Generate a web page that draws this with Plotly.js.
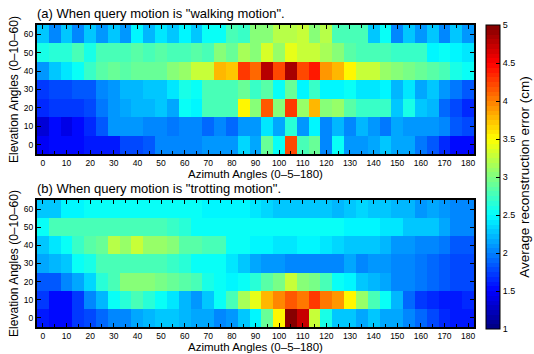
<!DOCTYPE html>
<html><head><meta charset="utf-8">
<script src="https://cdn.plot.ly/plotly-3.0.1.min.js"></script>
<style>html,body{margin:0;padding:0;background:#fff}</style>
</head><body><div id="chart" style="width:534px;height:354px"></div>
<script>
const azimuth = [0,5,10,15,20,25,30,35,40,45,50,55,60,65,70,75,80,85,90,95,100,105,110,115,120,125,130,135,140,145,150,155,160,165,170,175,180];
const elevation = [0,10,20,30,40,50,60];
const azTicks = [0,10,20,30,40,50,60,70,80,90,100,110,120,130,140,150,160,170,180];
const elTicks = [0,10,20,30,40,50,60];
const cbTicks = [1,1.5,2,2.5,3,3.5,4,4.5,5];

// (a) walking motion, rows elevation 0..60
const walkE0  = [1.45,1.5,1.5,1.5,1.6,1.6,1.6,1.75,1.8, 1.85,2.0,2.0,2.0,2.0,2.1,2.1,2.1,2.35,2.15, 2.9,2.5,4.2,2.8,2.9,2.05,2.5,2.1,2.1, 2.15,2.25,2.15,2.15,1.95,1.85,1.65,1.55,1.55];
const walkE10 = [1.35,1.5,1.4,1.55,1.65,1.85,2.1,2.1,2.1, 2.0,2.0,1.95,2.0,2.0,1.9,2.0,1.9,2.1,2.1, 2.4,2.15,2.65,2.1,2.45,2.0,2.2,2.0,2.2, 2.1,1.95,2.15,2.1,2.1,2.1,2.0,1.85,1.8];
const walkE20 = [1.65,1.7,1.7,1.7,1.8,1.95,2.1,2.15,2.2, 2.2,2.25,2.15,2.5,2.45,2.8,2.8,2.8,3.5,3.0, 4.15,3.05,4.25,3.1,3.8,3.0,3.1,2.85,2.7, 2.7,2.7,2.3,2.6,2.3,2.2,1.9,1.8,1.65];
const walkE30 = [1.7,1.75,1.75,1.85,1.85,2.05,2.1,2.2,2.2, 2.25,2.3,2.4,2.6,2.5,2.75,2.75,2.75,2.9,2.7, 2.85,2.5,2.9,2.45,2.7,2.45,2.45,2.5,2.4, 2.4,2.45,2.2,2.4,2.15,2.25,2.1,1.95,1.85];
const walkE40 = [2.1,2.25,2.4,2.5,2.7,2.85,2.9,2.85,2.9, 2.9,2.9,3.0,3.1,3.25,3.25,3.75,3.7,4.25,4.1, 4.75,4.2,4.85,4.2,4.4,3.9,3.75,3.5,3.3, 3.25,3.1,3.0,2.95,2.9,2.85,2.8,2.6,2.5];
const walkE50 = [2.6,2.65,2.65,2.8,2.6,2.8,2.8,2.8,2.85, 2.8,2.85,2.8,2.8,2.85,2.8,3.05,2.9,3.15,3.0, 3.35,3.1,3.4,3.25,3.3,3.15,3.05,2.85,2.8, 2.75,2.75,2.7,2.7,2.7,2.45,2.5,2.45,2.4];
const walkE60 = [2.3,2.05,2.25,2.05,2.3,2.1,2.3,2.1,2.45, 2.2,2.4,2.25,2.45,2.25,2.5,2.5,2.75,2.7,3.0, 3.05,3.2,3.2,3.25,3.05,3.2,2.75,2.75,2.75, 2.25,2.5,2.05,2.3,2.1,2.3,2.05,2.25,2.1];

// (b) trotting motion
const trotE0  = [1.6,1.5,1.55,1.7,1.8,1.9,2.0,2.05,2.15, 2.2,2.25,2.25,2.2,2.15,2.15,2.0,2.1,2.3,2.45, 2.9,3.5,5.0,4.7,3.25,2.6,2.3,2.3,2.15, 2.25,2.15,2.15,2.0,1.9,1.8,1.65,1.6,1.6];
const trotE10 = [1.7,1.55,1.55,1.7,2.05,2.2,2.5,2.65,2.75, 2.65,2.5,2.4,2.2,2.1,2.25,2.5,2.75,3.15,3.4, 3.8,3.95,4.15,4.0,4.3,4.0,3.9,3.5,3.1, 2.75,2.5,2.2,1.9,1.7,1.65,1.6,1.6,1.65];
const trotE20 = [1.85,1.85,2.0,2.15,2.35,2.65,2.8,3.0,3.05, 3.0,2.95,2.9,2.85,2.75,2.6,2.5,2.45,2.5,2.65, 2.85,2.95,3.3,3.05,2.95,2.8,2.55,2.45,2.25, 2.2,2.15,2.05,2.0,1.95,1.9,1.85,1.8,1.75];
const trotE30 = [2.15,2.2,2.3,2.5,2.6,2.75,2.8,2.8,2.8, 2.8,2.8,2.7,2.65,2.55,2.5,2.5,2.4,2.3,2.15, 2.1,2.1,2.05,2.05,2.0,2.05,2.05,2.15,2.0, 2.1,2.1,2.05,2.0,1.95,1.9,1.85,1.8,1.75];
const trotE40 = [2.3,2.4,2.5,2.7,2.85,2.9,3.2,3.1,3.25, 3.1,3.1,3.05,2.85,2.85,2.8,2.8,2.55,2.5,2.45, 2.45,2.4,2.4,2.45,2.45,2.4,2.35,2.3,2.3, 2.25,2.2,2.1,2.1,2.05,2.0,1.95,1.85,1.85];
const trotE50 = [2.55,2.75,2.75,2.8,2.8,2.8,2.8,2.8,2.8, 2.8,2.75,2.7,2.65,2.55,2.5,2.5,2.5,2.5,2.5, 2.5,2.5,2.5,2.5,2.5,2.5,2.5,2.45,2.45, 2.45,2.4,2.4,2.3,2.3,2.25,2.15,2.05,2.0];
const trotE60 = [2.3,2.25,2.45,2.45,2.5,2.5,2.5,2.5,2.55, 2.5,2.5,2.5,2.5,2.5,2.45,2.45,2.45,2.45,2.4, 2.35,2.3,2.3,2.3,2.3,2.25,2.2,2.3,2.35, 2.3,2.25,2.2,2.2,2.1,2.15,2.1,2.05,2.05];

const walkZ = [walkE0,walkE10,walkE20,walkE30,walkE40,walkE50,walkE60];
const trotZ = [trotE0,trotE10,trotE20,trotE30,trotE40,trotE50,trotE60];

// MATLAB-style jet, 64 discrete levels
function jet(x){const c=v=>Math.round(255*Math.max(0,Math.min(1,v)));
  return 'rgb('+c(1.5-Math.abs(4*x-3))+','+c(1.5-Math.abs(4*x-2))+','+c(1.5-Math.abs(4*x-1))+')';}
const N=64, scale=[];
for(let i=0;i<N;i++){const col=jet((i+0.5)/N);scale.push([i/N,col]);scale.push([(i+1)/N,col]);}

const W=534,H=354;
const px=v=>v/W, py=v=>1-v/H;
const font={family:'Liberation Sans, Arial, sans-serif',color:'#000'};

function xax(anchor,dom){return {domain:dom,anchor:anchor,range:[-2.5,182.5],tickvals:azTicks,ticktext:azTicks.map(String),
  ticks:'inside',ticklen:4,tickwidth:1,tickcolor:'#000',showline:true,linecolor:'#000',linewidth:2,mirror:'ticks',
  minor:{dtick:5,tick0:0,ticks:'inside',ticklen:3,tickcolor:'#000'},
  showgrid:false,zeroline:false,tickfont:{...font,size:8.5},automargin:false,
  title:{text:'Azimuth Angles (0\u20135\u2013180)',font:{...font,size:11.5},standoff:1}};}
function yax(anchor,dom){return {domain:dom,anchor:anchor,range:[-5,65],tickvals:elTicks,ticktext:elTicks.map(String),
  ticks:'inside',ticklen:4,tickwidth:1,tickcolor:'#000',showline:true,linecolor:'#000',linewidth:2,mirror:'ticks',
  showgrid:false,zeroline:false,tickfont:{...font,size:8.5},automargin:false,
  title:{text:'Elevation Angles (0\u201310\u201360)',font:{...font,size:12},standoff:3}};}

const traces=[
 {type:'heatmap',x:azimuth,y:elevation,z:walkZ,coloraxis:'coloraxis',xaxis:'x',yaxis:'y',hoverinfo:'skip'},
 {type:'heatmap',x:azimuth,y:elevation,z:trotZ,coloraxis:'coloraxis',xaxis:'x2',yaxis:'y2',hoverinfo:'skip'}
];
const xd=[px(37),px(474)];
const layout={width:W,height:H,margin:{l:0,r:0,t:0,b:0},paper_bgcolor:'#fff',plot_bgcolor:'#fff',font:font,showlegend:false,
 xaxis:xax('y',xd),yaxis:yax('x',[py(154),py(25)]),
 xaxis2:xax('y2',xd),yaxis2:yax('x2',[py(327),py(200)]),
 coloraxis:{cmin:1,cmax:5,colorscale:scale,colorbar:{x:px(486),xanchor:'left',y:py(25),yanchor:'top',len:304/H,lenmode:'fraction',
   thickness:14,thicknessmode:'pixels',outlinecolor:'#000',outlinewidth:1,tickvals:cbTicks,ticktext:cbTicks.map(String),
   ticks:'inside',ticklen:4,tickcolor:'#000',tickfont:{...font,size:9},xpad:0,ypad:0,
   title:{text:'Average reconstruction error (cm)',side:'right',font:{...font,size:13.5}}}},
 annotations:[
  {text:'(a) When query motion is "walking motion".',xref:'paper',yref:'paper',x:px(35),y:py(13),xanchor:'left',yanchor:'middle',showarrow:false,font:{...font,size:13}},
  {text:'(b) When query motion is "trotting motion".',xref:'paper',yref:'paper',x:px(35),y:py(188),xanchor:'left',yanchor:'middle',showarrow:false,font:{...font,size:13}}
 ]};
Plotly.newPlot('chart',traces,layout,{displayModeBar:false,staticPlot:true});
</script></body></html>
